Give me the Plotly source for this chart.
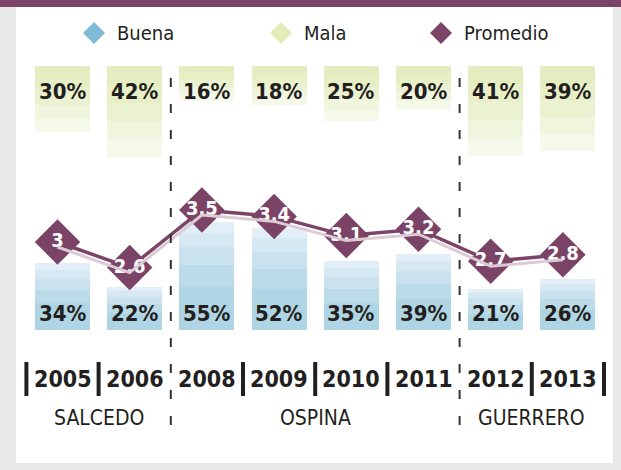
import plotly.graph_objects as go

# ---- data -------------------------------------------------------------
years = ["2005", "2006", "2008", "2009", "2010", "2011", "2012", "2013"]
buena = [34, 22, 55, 52, 35, 39, 21, 26]          # % "Buena"
mala = [30, 42, 16, 18, 25, 20, 41, 39]           # % "Mala"
promedio = [3, 2.6, 3.5, 3.4, 3.1, 3.2, 2.7, 2.8]  # average score
alcaldes = ["SALCEDO", "OSPINA", "GUERRERO"]
periodos = [("2005", "2006"), ("2008", "2011"), ("2012", "2013")]
series_names = ["Buena", "Mala", "Promedio"]

# ---- style ------------------------------------------------------------
W, H = 621, 470
PURPLE = "#7b4466"
SHADOW = "#dccbd5"
INK = "#231f20"
FRAME = "#e8e8e8"
BLUE_KEY = "#7fbbd7"
GREEN_KEY = "#e2ecb9"
COND = "DejaVu Sans Condensed, sans-serif"

# banded fills: each bar is stacked as overlaid copies, light tip -> dark core
buena_fracs = [1.0, 0.9, 0.77, 0.6, 0.4]
buena_cols = ["#e2eff6", "#d6e9f2", "#c9e2ed", "#bcdbe8", "#afd4e3"]
mala_fracs = [1.0, 0.8, 0.6, 0.4, 0.2]
mala_cols = ["#f5f9e9", "#f0f5dd", "#ebf2d1", "#e7efc7", "#e4edc0"]


def px_x(px):
    return px / W


def px_y(px):
    return 1 - px / H


# x: category axis spread over the whole figure
step = 72.2
x0 = -62.5 / step
x_range = [x0, x0 + W / step]
line_shift = 5 / step
# y scales (pixel baselines chosen for the layout)
b_scale, b_base = 1.96, 330       # px per %, baseline (bottom)
m_scale, m_base = 2.19, 66        # px per %, baseline (top)
p_scale, p_ref_px, p_ref_v = 64, 210, 3.5
shadow_px = 5

fig = go.Figure()

for frac, col in zip(buena_fracs, buena_cols):
    fig.add_trace(go.Bar(
        x=years, y=[v * frac for v in buena], marker=dict(color=col, line=dict(width=0)),
        width=0.76, xaxis="x", yaxis="y", hoverinfo="skip", showlegend=False))

for frac, col in zip(mala_fracs, mala_cols):
    fig.add_trace(go.Bar(
        x=years, y=[v * frac for v in mala], marker=dict(color=col, line=dict(width=0)),
        width=0.76, xaxis="x", yaxis="y2", hoverinfo="skip", showlegend=False))

# soft shadow under the average line
fig.add_trace(go.Scatter(
    x=years, y=promedio, mode="lines", line=dict(color=SHADOW, width=3),
    xaxis="x2", yaxis="y4", hoverinfo="skip", showlegend=False))

fig.add_trace(go.Scatter(
    x=years, y=promedio, mode="lines+markers+text",
    line=dict(color=PURPLE, width=3.5),
    marker=dict(symbol="diamond", size=35, color=PURPLE, line=dict(width=0)),
    text=[f"{v:g}" for v in promedio], textposition="middle center",
    textfont=dict(family=COND, size=20, color="white", weight="bold"),
    xaxis="x2", yaxis="y3", name="Promedio", showlegend=False))

annotations = []
# value labels
for i, (b, m) in enumerate(zip(buena, mala)):
    annotations.append(dict(
        x=i, y=(b_base - 313) / b_scale, xref="x", yref="y", text=f"{b}%",
        yanchor="middle", showarrow=False,
        font=dict(family=COND, size=22, color=INK, weight="bold")))
    annotations.append(dict(
        x=i, y=(91 - m_base) / m_scale, xref="x", yref="y2", text=f"{m}%",
        yanchor="middle", showarrow=False,
        font=dict(family=COND, size=22, color=INK, weight="bold")))

# year labels
for i, yr in enumerate(years):
    annotations.append(dict(
        x=i, y=px_y(379), xref="x", yref="paper", text=yr, showarrow=False,
        xanchor="center", yanchor="middle",
        font=dict(family=COND, size=23, color=INK, weight="bold")))

shapes = [
    dict(type="rect", xref="paper", yref="paper", x0=px_x(16), x1=px_x(613),
         y0=px_y(463), y1=px_y(7), fillcolor="white", line=dict(width=0), layer="below"),
    dict(type="rect", xref="paper", yref="paper", x0=0, x1=1,
         y0=px_y(7), y1=1, fillcolor=PURPLE, line=dict(width=0), layer="below"),
]

# mayor groups, separators
idx = {y: i for i, y in enumerate(years)}
solid_x = [-0.5]
dashed_x = []
for g, (name, (a, b)) in enumerate(zip(alcaldes, periodos)):
    ia, ib = idx[a], idx[b]
    annotations.append(dict(
        x=(ia + ib) / 2, y=px_y(418), xref="x", yref="paper", text=name,
        xanchor="center", yanchor="middle", showarrow=False,
        font=dict(family=COND, size=21, color=INK)))
    solid_x += [k + 0.5 for k in range(ia, ib)]
    if g < len(alcaldes) - 1:
        dashed_x.append(ib + 0.5)
solid_x.append(len(years) - 0.5)

for sx in solid_x:
    shapes.append(dict(type="line", xref="x", yref="paper", x0=sx, x1=sx,
                       y0=px_y(396), y1=px_y(362), line=dict(color=INK, width=4)))
for dx in dashed_x:
    shapes.append(dict(type="line", xref="x", yref="paper", x0=dx, x1=dx,
                       y0=px_y(425), y1=px_y(62),
                       line=dict(color="#333333", width=2, dash="9px,17px")))

# key
key_cols = [BLUE_KEY, GREEN_KEY, PURPLE]
key_dx = [94, 281, 441]
for name, col, kx in zip(series_names, key_cols, key_dx):
    shapes.append(dict(type="path", xref="paper", yref="paper",
                       xsizemode="pixel", ysizemode="pixel",
                       xanchor=px_x(kx), yanchor=px_y(33),
                       path="M-11,0 L0,11 L11,0 L0,-11 Z",
                       fillcolor=col, line=dict(width=0)))
    annotations.append(dict(
        x=px_x(kx + 21), y=px_y(33), xref="paper", yref="paper", text=name,
        xanchor="left", yanchor="middle", showarrow=False,
        font=dict(family=COND, size=20, color=INK)))

hidden = dict(visible=False, showgrid=False, zeroline=False, fixedrange=True)
fig.update_layout(
    width=W, height=H, margin=dict(l=0, r=0, t=0, b=0),
    paper_bgcolor=FRAME, plot_bgcolor="rgba(0,0,0,0)",
    barmode="overlay", bargap=0,
    xaxis=dict(type="category", categoryorder="array", categoryarray=years,
               range=x_range, **hidden),
    xaxis2=dict(type="category", categoryorder="array", categoryarray=years,
                range=[x_range[0] + line_shift, x_range[1] + line_shift],
                overlaying="x", **hidden),
    yaxis=dict(range=[-(H - b_base) / b_scale, b_base / b_scale], **hidden),
    yaxis2=dict(range=[(H - m_base) / m_scale, -m_base / m_scale], overlaying="y", **hidden),
    yaxis3=dict(range=[p_ref_v - (H - p_ref_px) / p_scale, p_ref_v + p_ref_px / p_scale],
                overlaying="y", **hidden),
    yaxis4=dict(range=[p_ref_v - (H - p_ref_px - shadow_px) / p_scale,
                       p_ref_v + (p_ref_px + shadow_px) / p_scale],
                overlaying="y", **hidden),
    annotations=annotations, shapes=shapes, showlegend=False,
)

fig.write_html("out.html")
